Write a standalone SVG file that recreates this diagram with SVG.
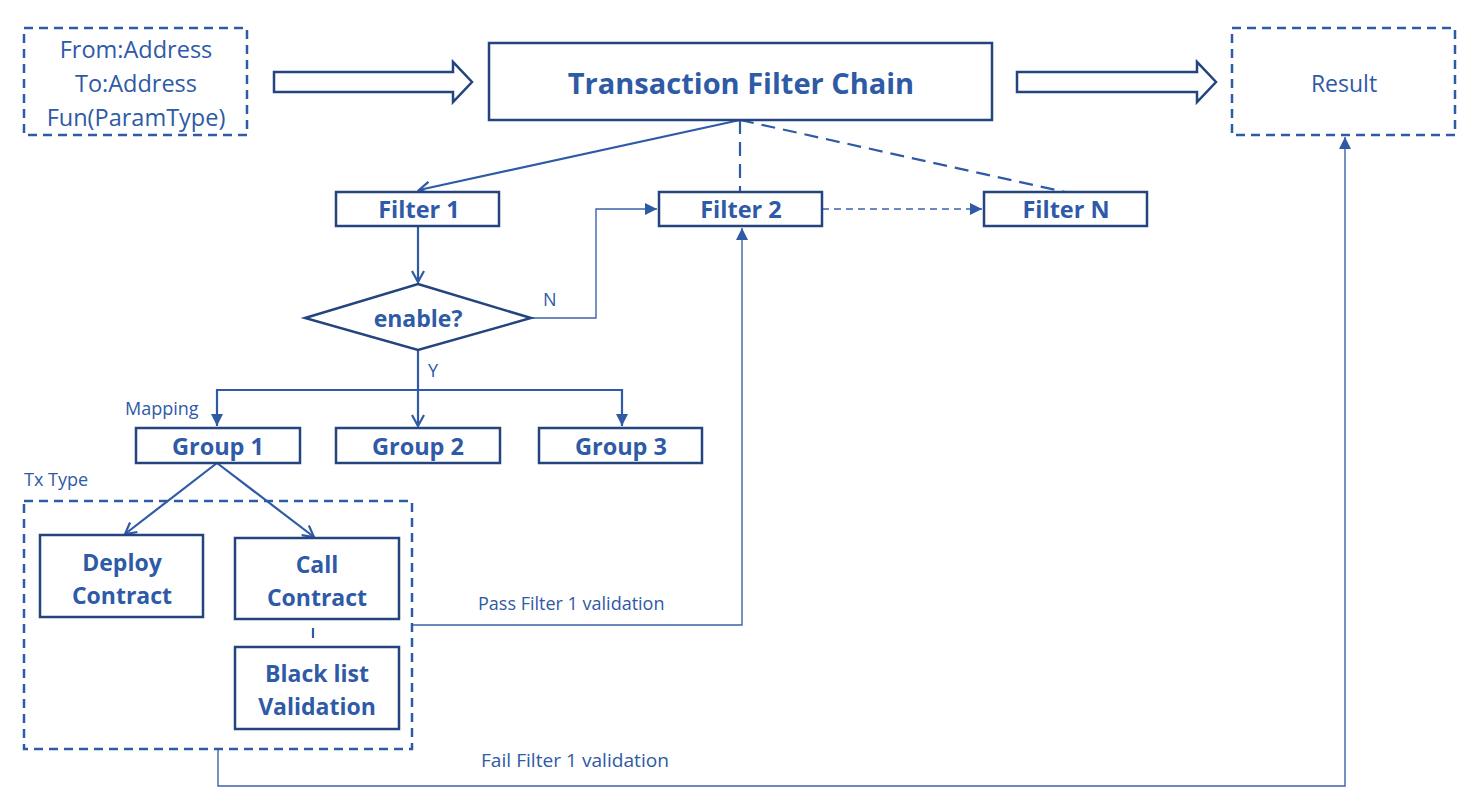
<svg xmlns="http://www.w3.org/2000/svg" width="1481" height="812" viewBox="0 0 1481 812">
<defs>
<style>
.box{fill:#fff;stroke:#24447f;stroke-width:2.5}
.dbox{fill:none;stroke:#2f5ba6;stroke-width:2.5;stroke-dasharray:9 6}
.t{font-family:"Open Sans","Liberation Sans",sans-serif;fill:#2e5aa6;text-anchor:middle;dominant-baseline:central}
.b{font-weight:bold}
.lbl{font-family:"Open Sans","Liberation Sans",sans-serif;fill:#2e5aa6;font-size:18px}
.c{fill:none;stroke:#2e5aa6;stroke-width:2.2}
.thin{fill:none;stroke:#3b63ab;stroke-width:1.4}
.hollow{fill:#fff;stroke:#24447f;stroke-width:2.5;stroke-linejoin:miter}
</style>
<marker id="open" markerWidth="14" markerHeight="14" refX="12" refY="7" orient="auto" markerUnits="userSpaceOnUse">
<path d="M1,1 L12,7 L1,13" fill="none" stroke="#2e5aa6" stroke-width="2.2"/>
</marker>
<marker id="fill" markerWidth="14" markerHeight="14" refX="12" refY="6" orient="auto" markerUnits="userSpaceOnUse">
<path d="M0,0 L12,6 L0,12 Z" fill="#2e5aa6"/>
</marker>
</defs>
<rect width="1481" height="812" fill="#fff"/>

<g id="connectors">
<path class="hollow" d="M274,72 H453 V62 L472,82 L453,102 V92 H274 Z"/>
<path class="hollow" d="M1017,72 H1197 V62 L1216,82 L1197,102 V92 H1017 Z"/>
<line class="c" x1="740" y1="120" x2="419" y2="190" marker-end="url(#open)"/>
<line class="c" x1="740" y1="120" x2="740" y2="192" stroke-dasharray="14 8"/>
<line class="c" x1="740" y1="120" x2="1065" y2="192" stroke-dasharray="14 8"/>
<line class="thin" x1="822" y1="209" x2="982" y2="209" stroke-dasharray="7 5" marker-end="url(#fill)"/>
<line class="c" x1="418" y1="226" x2="418" y2="282" marker-end="url(#open)"/>
<polyline class="thin" points="531,318 596,318 596,209 657,209" marker-end="url(#fill)"/>
<line class="c" x1="418" y1="350" x2="418" y2="426" marker-end="url(#open)"/>
<polyline class="c" points="217,390 622,390 622,426" marker-end="url(#fill)"/>
<line class="c" x1="217" y1="389" x2="217" y2="426" marker-end="url(#fill)"/>
<line class="c" x1="217" y1="463" x2="125" y2="534" marker-end="url(#open)"/>
<line class="c" x1="217" y1="463" x2="314" y2="537" marker-end="url(#open)"/>
<line class="c" x1="313" y1="628" x2="313" y2="638"/>
<polyline class="thin" points="412,625 742,625 742,228" marker-end="url(#fill)"/>
<polyline class="thin" points="218,749 218,786 1345,786 1345,137" marker-end="url(#fill)"/>
<text class="lbl" x="543" y="306">N</text>
<text class="lbl" x="428" y="377">Y</text>
<text class="lbl" x="125" y="415">Mapping</text>
<text class="lbl" x="24" y="486">Tx Type</text>
<text class="lbl" x="478" y="610">Pass Filter 1 validation</text>
<text class="lbl" x="481" y="767" textLength="188" lengthAdjust="spacingAndGlyphs">Fail Filter 1 validation</text>
</g>

<g id="input">
<rect class="dbox" x="24" y="28" width="223" height="107"/>
<text class="t" x="136" y="49" font-size="23.5">From:Address</text>
<text class="t" x="136" y="83" font-size="23.5">To:Address</text>
<text class="t" x="136" y="117" font-size="23.5">Fun(ParamType)</text>
</g>
<g id="chain">
<rect class="box" x="489" y="43" width="503" height="77"/>
<text class="t b" x="741" y="82" font-size="29">Transaction Filter Chain</text>
</g>
<g id="result">
<rect class="dbox" x="1232" y="28" width="223" height="107"/>
<text class="t" x="1344" y="83" font-size="23">Result</text>
</g>
<g id="filter1">
<rect class="box" x="336" y="192" width="163" height="34"/>
<text class="t b" x="419" y="209" font-size="23.5">Filter 1</text>
</g>
<g id="filter2">
<rect class="box" x="659" y="192" width="163" height="34"/>
<text class="t b" x="741" y="209" font-size="23.5">Filter 2</text>
</g>
<g id="filterN">
<rect class="box" x="984" y="192" width="163" height="34"/>
<text class="t b" x="1066" y="209" font-size="23.5">Filter N</text>
</g>
<g id="enable">
<polygon class="box" points="418,284 531,318 418,350 305,318"/>
<text class="t b" x="418" y="318" font-size="23">enable?</text>
</g>
<g id="group1">
<rect class="box" x="136" y="428" width="164" height="35"/>
<text class="t b" x="218" y="446" font-size="23.5">Group 1</text>
</g>
<g id="group2">
<rect class="box" x="336" y="428" width="164" height="35"/>
<text class="t b" x="418" y="446" font-size="23.5">Group 2</text>
</g>
<g id="group3">
<rect class="box" x="539" y="428" width="163" height="35"/>
<text class="t b" x="621" y="446" font-size="23.5">Group 3</text>
</g>
<g id="txtype">
<rect class="dbox" x="24" y="501" width="388" height="248"/>
</g>
<g id="deploy">
<rect class="box" x="40" y="535" width="163" height="82"/>
<text class="t b" x="122" y="562" font-size="23">Deploy</text>
<text class="t b" x="122" y="595" font-size="23">Contract</text>
</g>
<g id="call">
<rect class="box" x="235" y="538" width="164" height="81"/>
<text class="t b" x="317" y="564" font-size="23">Call</text>
<text class="t b" x="317" y="597" font-size="23">Contract</text>
</g>
<g id="blacklist">
<rect class="box" x="235" y="647" width="164" height="82"/>
<text class="t b" x="317" y="673" font-size="23">Black list</text>
<text class="t b" x="317" y="706" font-size="23">Validation</text>
</g>
</svg>
